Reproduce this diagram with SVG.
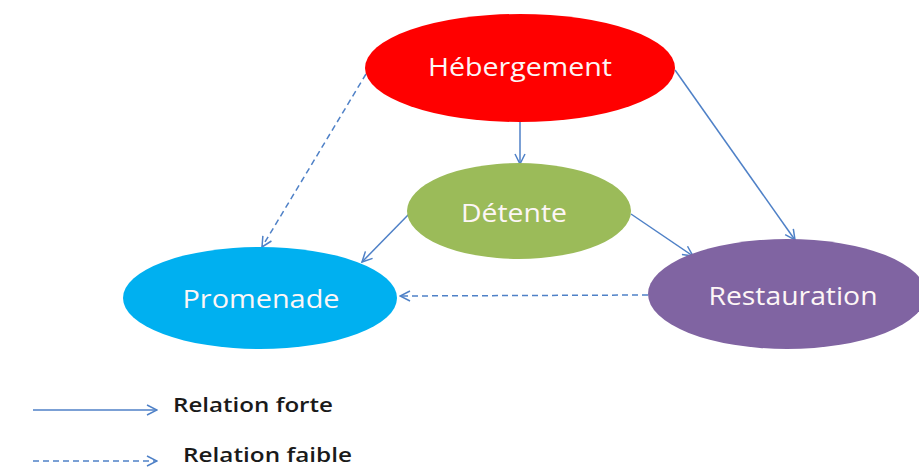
<svg xmlns="http://www.w3.org/2000/svg" width="919" height="468" viewBox="0 0 919 468">
  <defs>
    <marker id="arrow" viewBox="0 0 12 12" refX="11" refY="6" markerWidth="12" markerHeight="12" markerUnits="userSpaceOnUse" orient="auto">
      <path d="M1,1 L11,6 L1,11" fill="none" stroke="#4f81c7" stroke-width="1.5"/>
    </marker>
    <style>
      .node-label { font-family: "Open Sans", "Liberation Sans", sans-serif; font-size: 25px; fill: #fdf6f6; text-anchor: middle; }
      .link { fill: none; stroke: #4f81c7; stroke-width: 1.5; marker-end: url(#arrow); }
      .weak { stroke-dasharray: 6 4; }
      .legend-label { font-family: "Open Sans", "Liberation Sans", sans-serif; font-size: 19px; font-weight: 600; fill: #1a1a1a; }
    </style>
  </defs>
  <rect width="919" height="468" fill="#ffffff"/>

  <g id="connectors">
    <line class="link" x1="520" y1="122" x2="520" y2="164"/>
    <line class="link weak" x1="366" y1="74" x2="262" y2="247"/>
    <line class="link" x1="675" y1="70" x2="795" y2="240"/>
    <line class="link" x1="410" y1="213" x2="362" y2="262"/>
    <line class="link" x1="631" y1="214" x2="693" y2="256"/>
    <line class="link weak" x1="648" y1="295" x2="400" y2="296"/>
  </g>

  <g id="hebergement">
    <ellipse cx="520" cy="68" rx="155" ry="54" fill="#ff0000"/>
    <text class="node-label" x="520" y="76" textLength="184" lengthAdjust="spacingAndGlyphs">Hébergement</text>
  </g>
  <g id="detente">
    <ellipse cx="519" cy="211" rx="112" ry="48" fill="#9bbb59"/>
    <text class="node-label" x="514" y="222" textLength="106" lengthAdjust="spacingAndGlyphs">Détente</text>
  </g>
  <g id="promenade">
    <ellipse cx="260" cy="298" rx="137" ry="51" fill="#00b0f0"/>
    <text class="node-label" x="261" y="308" textLength="157" lengthAdjust="spacingAndGlyphs">Promenade</text>
  </g>
  <g id="restauration">
    <ellipse cx="787" cy="294" rx="139" ry="55" fill="#8064a2"/>
    <text class="node-label" x="793" y="305" textLength="169" lengthAdjust="spacingAndGlyphs">Restauration</text>
  </g>

  <g id="legend">
    <line class="link" x1="33" y1="410" x2="157" y2="410"/>
    <text class="legend-label" x="173" y="412" textLength="160" lengthAdjust="spacingAndGlyphs">Relation forte</text>
    <line class="link weak" x1="33" y1="461" x2="157" y2="461"/>
    <text class="legend-label" x="183" y="462" textLength="169" lengthAdjust="spacingAndGlyphs">Relation faible</text>
  </g>
</svg>
